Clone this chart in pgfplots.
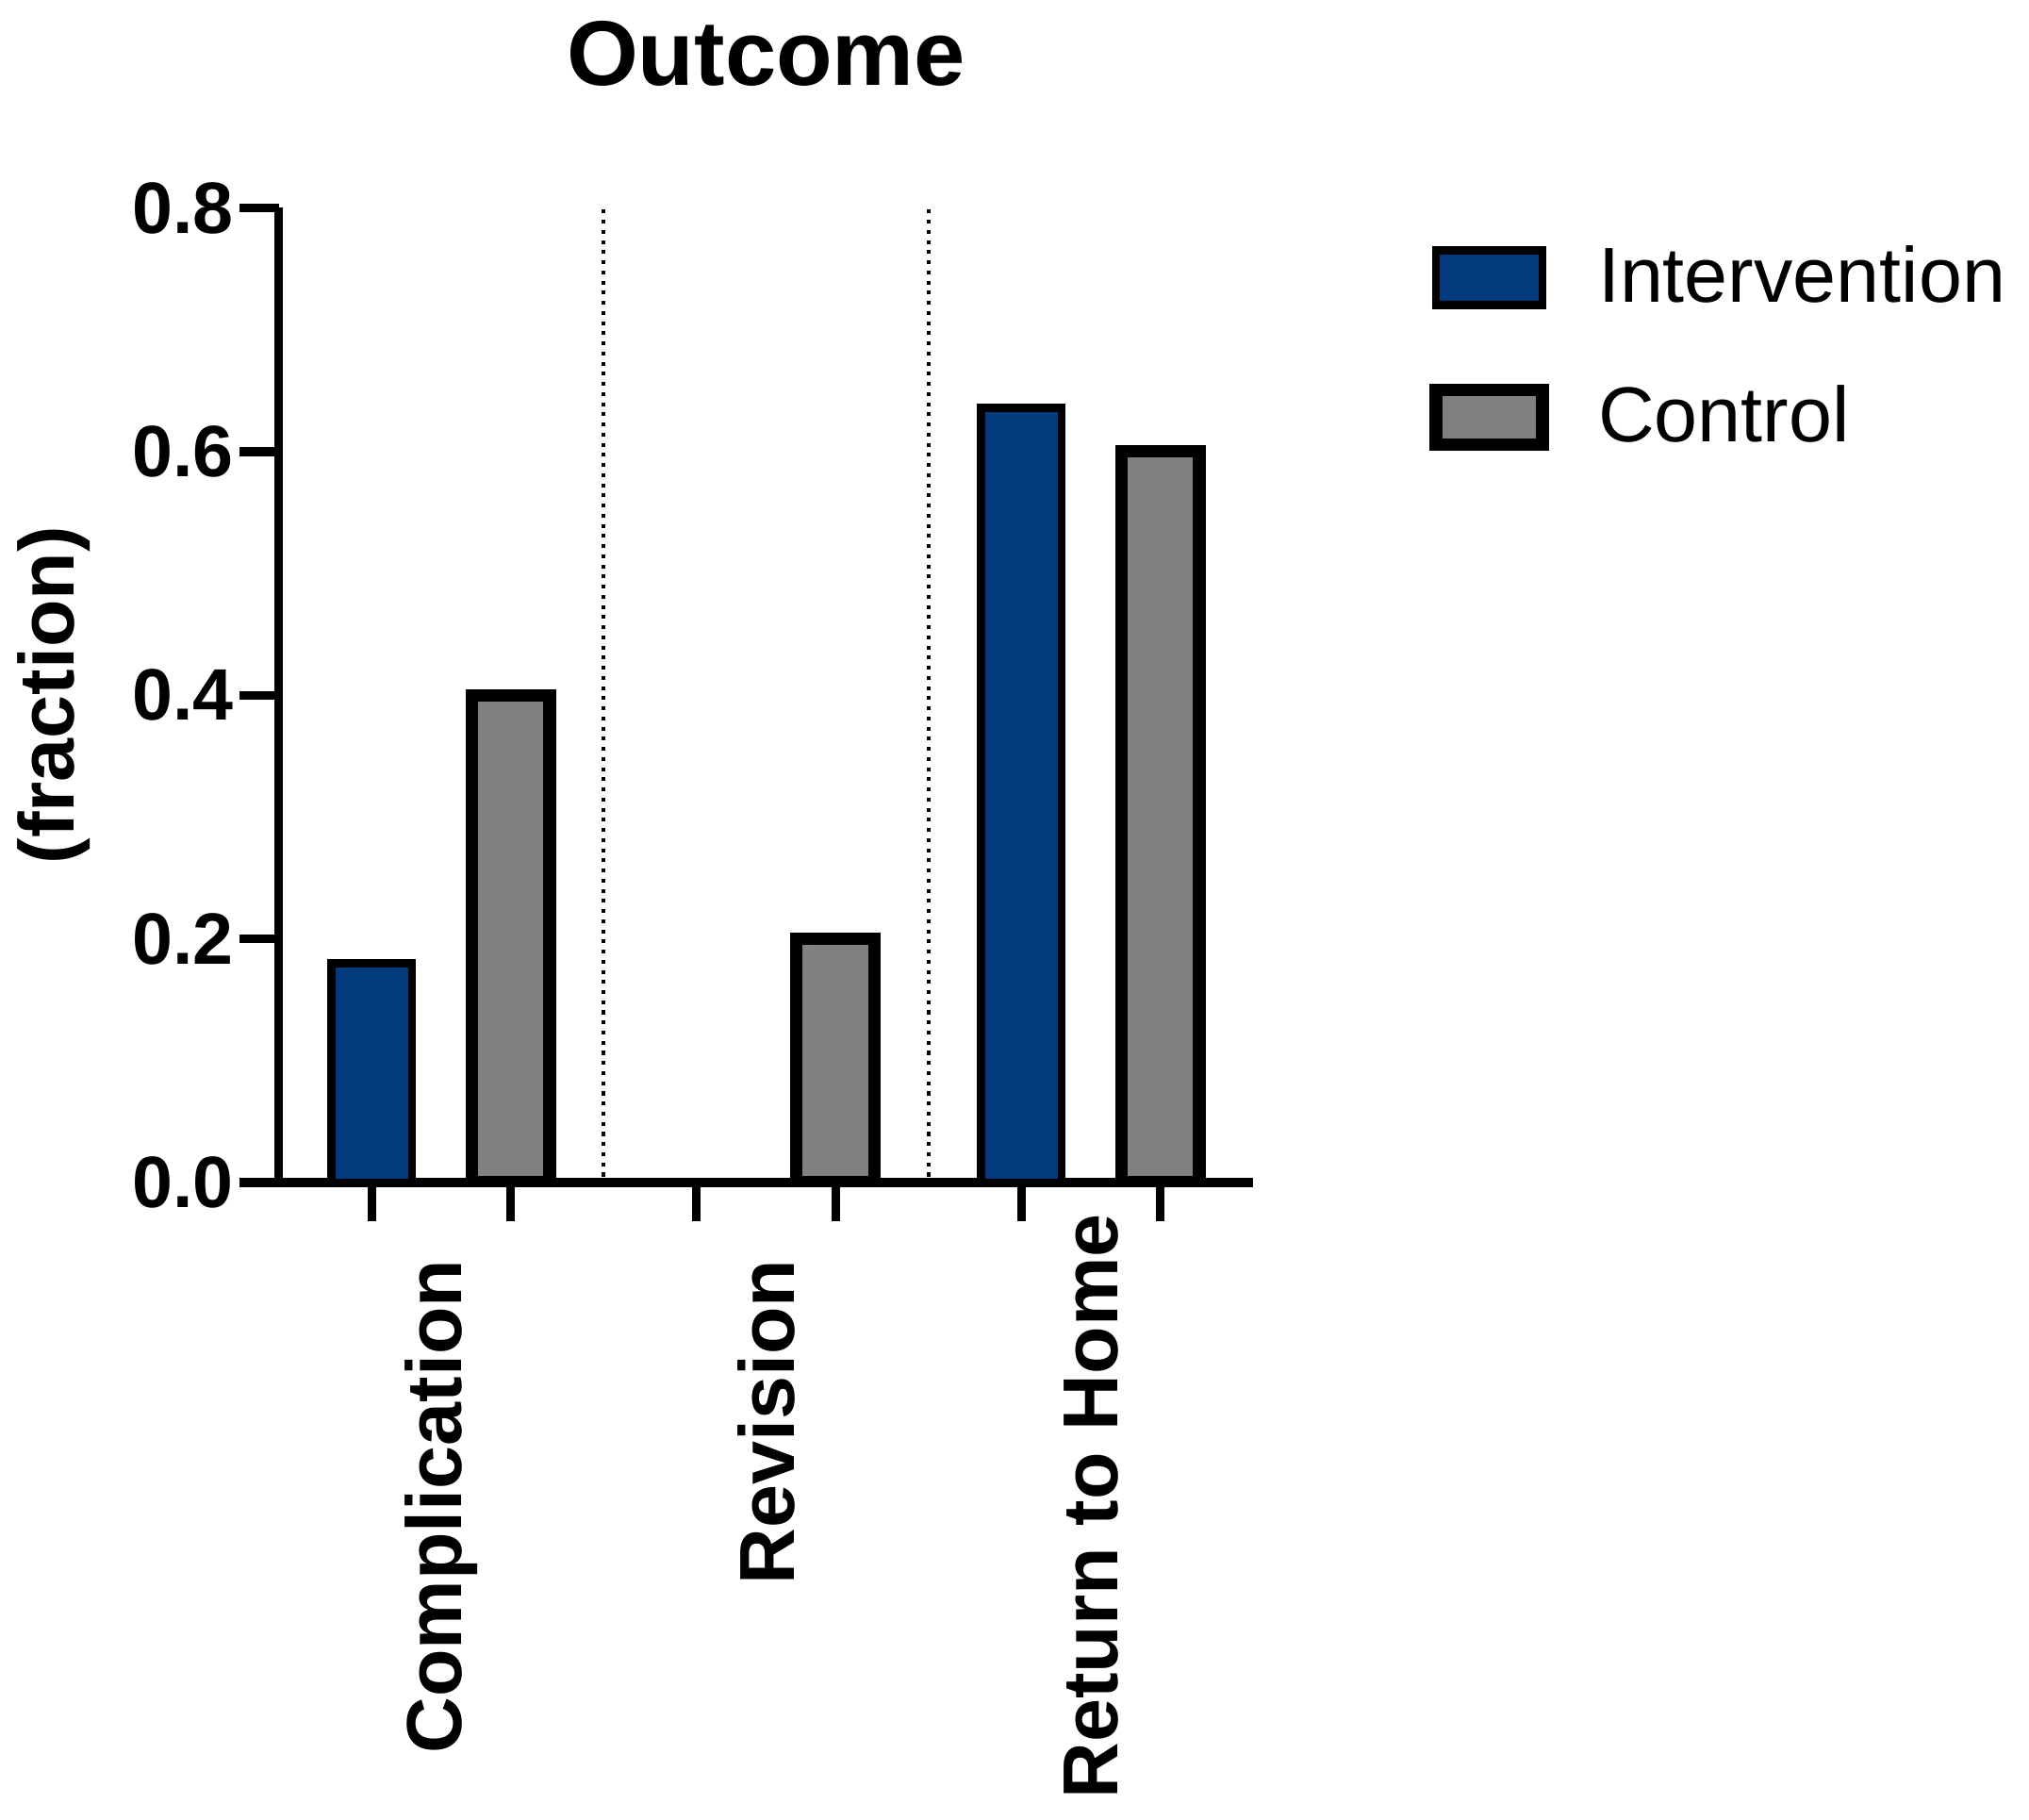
\documentclass[border=0pt]{standalone}
\usepackage{pgfplots}
\pgfplotsset{compat=1.18}
\usepackage{fontspec}
\setmainfont{Liberation Sans}

\definecolor{intblue}{RGB}{1,59,126}
\definecolor{ctlgray}{RGB}{127,129,128}

\pgfplotsset{
  mybar/.style={ybar, bar shift=0pt,
    legend image code/.code={\draw[##1] (0pt,-5.25pt) rectangle (20.5pt,5.25pt);}},
}

\begin{document}
\begin{tikzpicture}
\begin{axis}[
    scale only axis,
    width=187.5pt, height=187.5pt,
    xmin=-0.5, xmax=2.5,
    ymin=0, ymax=0.8,
    axis x line*=bottom, axis y line*=left,
    axis line style={line width=1.7pt},
    tick align=outside,
    major tick length=7.5pt,
    tick style={line width=1.7pt, black},
    xtick={-0.214,0.214,0.786,1.214,1.786,2.214},
    xticklabels={},
    extra x ticks={0,1,2},
    extra x tick labels={Complication, Revision, Return to Home\kern-8.75pt},
    extra x tick style={tick style={draw=none},
      tick label style={yshift=-3.75pt, rotate=90, anchor=east, font=\fontsize{15}{18}\selectfont\bfseries}},
    ytick={0,0.2,0.4,0.6,0.8},
    yticklabel style={font=\fontsize{14}{16}\selectfont\bfseries, inner sep=1pt,
      /pgf/number format/.cd, fixed, fixed zerofill, precision=1, assume math mode=true},
    ylabel={(fraction)},
    every axis y label/.style={at={(axis description cs:-0.231,0.5)}, rotate=90, anchor=center,
      font=\fontsize{15}{18}\selectfont\bfseries},
    title={Outcome},
    every axis title/.style={at={(axis description cs:0.5,1)}, anchor=base, yshift=23.5pt,
      font=\fontsize{17.7}{21}\selectfont\bfseries},
    legend style={at={(1.18,0.9627)}, anchor=north west, draw=none, fill=none,
      inner sep=0pt, row sep=14.25pt, column sep=9.5pt,
      font=\fontsize{15}{18}\selectfont, nodes={inner sep=0pt}},
    legend cell align=left,
]
\addplot[forget plot, line width=0.75pt, dash pattern=on 0.75pt off 1.2pt]
  coordinates {(0.5,0.005) (0.5,0.8)};
\addplot[forget plot, line width=0.75pt, dash pattern=on 0.75pt off 1.2pt]
  coordinates {(1.5,0.005) (1.5,0.8)};
\addplot[mybar, bar width=0.248, fill=intblue, draw=black, line width=1.6pt]
  coordinates {(-0.214,0.18) (0.786,0) (1.786,0.636)};
\addplot[mybar, bar width=0.24, fill=ctlgray, draw=black, line width=2.4pt]
  coordinates {(0.214,0.40) (1.214,0.20) (2.214,0.60)};
\legend{Intervention, Control}
\end{axis}
\path (current axis.south west) ++(-53.25pt,-122.5pt) rectangle ++(390pt,350pt);
\end{tikzpicture}
\end{document}
